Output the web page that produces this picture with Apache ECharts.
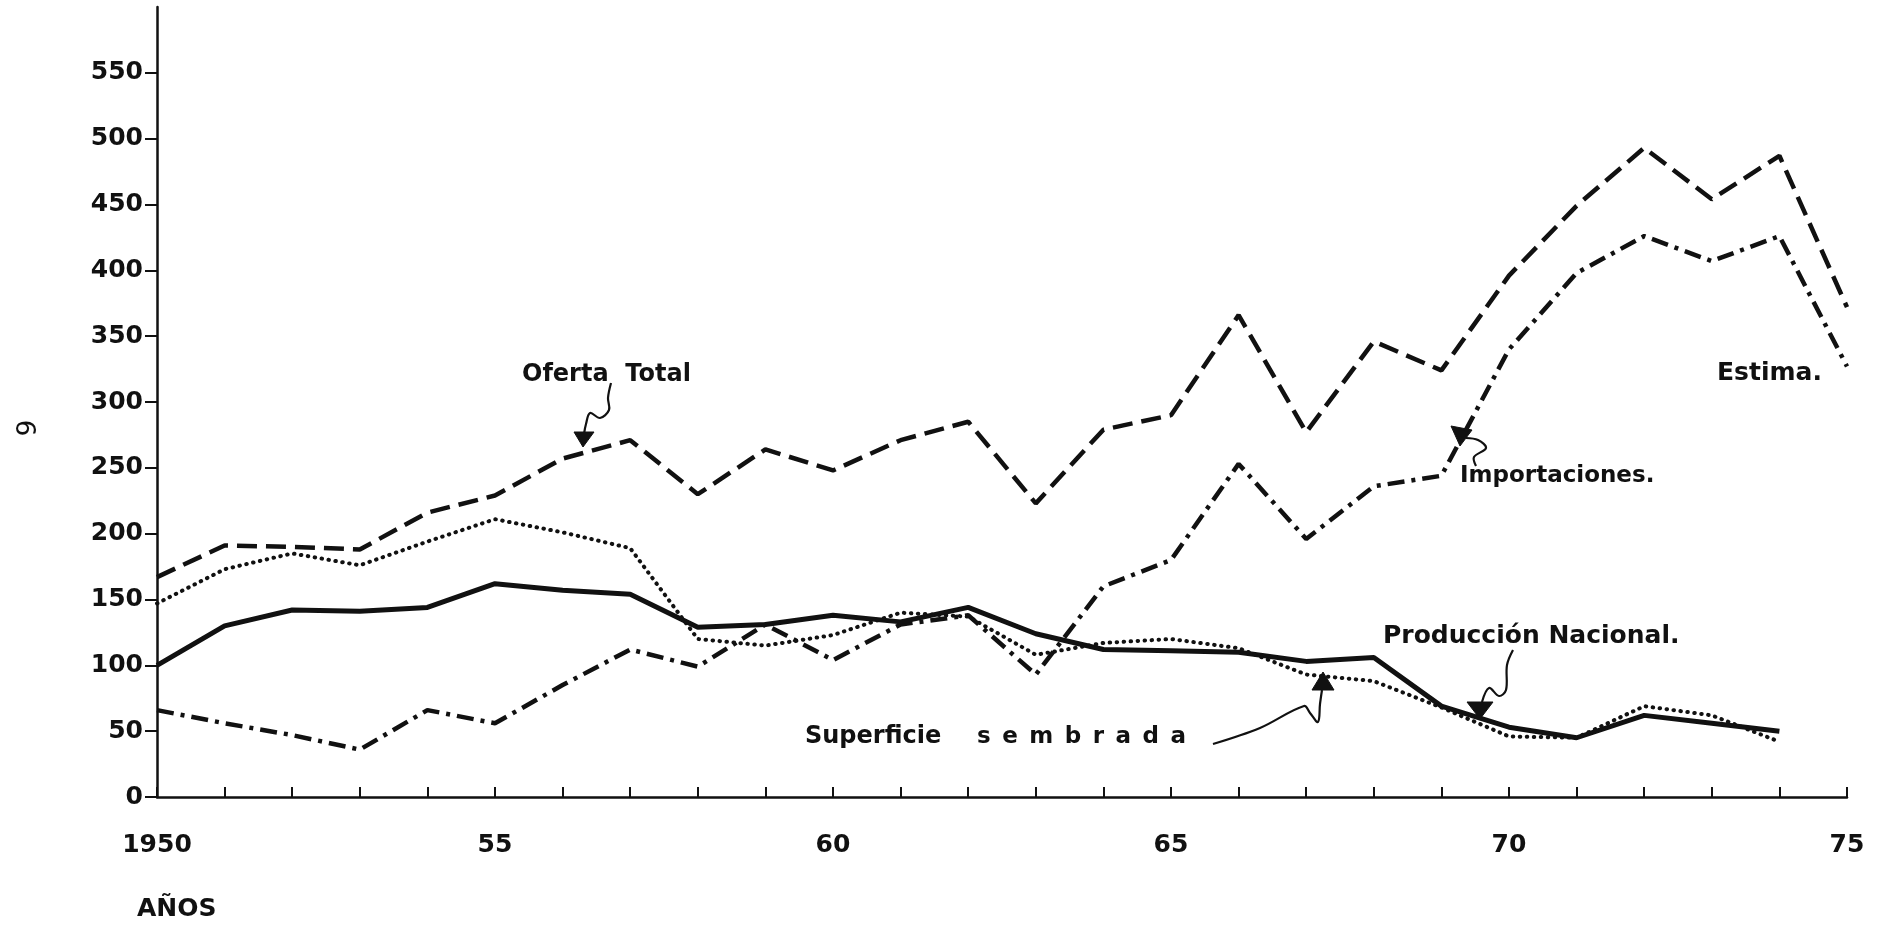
<!DOCTYPE html>
<html>
<head>
<meta charset="utf-8">
<title>Oferta Total, Importaciones, Produccion Nacional, Superficie sembrada</title>
<script src="https://cdn.jsdelivr.net/npm/echarts@6/dist/echarts.min.js"></script>
<style>
  html, body { margin: 0; padding: 0; background: #ffffff; }
  #chart { width: 1880px; height: 936px; }
</style>
</head>
<body>
<div id="chart"></div>
<script>
// años 1950 - 1975
const years = ['1950', '1951', '1952', '1953', '1954', '1955', '1956', '1957', '1958', '1959',
  '1960', '1961', '1962', '1963', '1964', '1965', '1966', '1967', '1968', '1969',
  '1970', '1971', '1972', '1973', '1974', '1975']
const yearLabels = ['1950', '55', '60', '65', '70', '75']
const yTicks = [0, 50, 100, 150, 200, 250, 300, 350, 400, 450, 500, 550]

// valores (1975 = estimado)
const ofertaTotal = [167, 191, 190, 188, 216, 229, 257, 271, 230, 264,
  248, 271, 285, 223, 279, 290, 366, 277, 346, 324,
  396, 449, 493, 454, 487, 372]
const importaciones = [66, 56, 47, 36, 66, 56, 85, 112, 99, 131,
  104, 131, 138, 93, 160, 180, 253, 196, 236, 244,
  340, 398, 426, 407, 426, 327]
const produccionNacional = [100, 130, 142, 141, 144, 162, 157, 154, 129, 131,
  138, 133, 144, 124, 112, 111, 110, 103, 106, 69,
  53, 45, 62, 56, 50, null]
const superficieSembrada = [147, 173, 185, 176, 194, 211, 201, 189, 120, 115,
  123, 140, 137, 108, 117, 120, 113, 93, 88, 68,
  46, 45, 69, 62, 42, null]

const ink = '#111111'

const chart = echarts.init(document.getElementById('chart'))

const note = (text, x, y, size) => ({
  type: 'text',
  x: x,
  y: y,
  style: {
    text: text,
    font: 'bold ' + (size || 22) + 'px "DejaVu Sans"',
    fill: ink,
    align: 'left',
    verticalAlign: 'middle'
  }
})

const curve = (points) => ({
  type: 'polyline',
  shape: { points: points, smooth: 0.35 },
  style: { stroke: ink, lineWidth: 2.2, fill: null }
})

const head = (points) => ({
  type: 'polygon',
  shape: { points: points },
  style: { fill: ink, stroke: ink, lineWidth: 1 }
})

const option = {
  animation: false,
  backgroundColor: '#ffffff',
  grid: { left: 157, right: 33, top: 7, bottom: 139 },
  xAxis: {
    type: 'category',
    data: years,
    boundaryGap: false,
    axisLine: { lineStyle: { color: ink, width: 2.5 } },
    axisTick: { show: true, inside: true, length: 10, interval: 0, lineStyle: { color: ink, width: 2 } },
    axisLabel: {
      interval: 4,
      margin: 36,
      color: ink,
      fontFamily: 'DejaVu Sans',
      fontWeight: 'bold',
      fontSize: 25,
      formatter: (value, index) => yearLabels[index / 5]
    },
    splitLine: { show: false }
  },
  yAxis: {
    type: 'value',
    min: 0,
    max: 600,
    interval: 50,
    axisLine: { show: true, lineStyle: { color: ink, width: 2.5 } },
    axisTick: { show: true, length: 12, customValues: yTicks, lineStyle: { color: ink, width: 2 } },
    axisLabel: {
      customValues: yTicks,
      margin: 14,
      color: ink,
      fontFamily: 'DejaVu Sans',
      fontWeight: 'bold',
      fontSize: 25
    },
    splitLine: { show: false }
  },
  series: [
    {
      name: 'Oferta Total',
      type: 'line',
      data: ofertaTotal,
      symbol: 'none',
      lineStyle: { color: ink, width: 4.5, type: [20, 9] }
    },
    {
      name: 'Importaciones',
      type: 'line',
      data: importaciones,
      symbol: 'none',
      lineStyle: { color: ink, width: 4.5, type: [17, 7, 4, 7] }
    },
    {
      name: 'Produccion Nacional',
      type: 'line',
      data: produccionNacional,
      symbol: 'none',
      lineStyle: { color: ink, width: 5 }
    },
    {
      name: 'Superficie sembrada',
      type: 'line',
      data: superficieSembrada,
      symbol: 'none',
      lineStyle: { color: ink, width: 4, type: [0.5, 6.5], cap: 'round' }
    }
  ],
  graphic: [
    note('Oferta  Total', 522, 375, 24),
    curve([[611, 383], [608, 398], [609, 410], [600, 418], [590, 413], [586, 424], [584, 434]]),
    head([[574, 432], [594, 432], [583, 447]]),

    note('Importaciones.', 1460, 476, 23),
    curve([[1476, 466], [1474, 457], [1486, 448], [1478, 440], [1466, 438]]),
    head([[1451, 426], [1472, 430], [1460, 446]]),

    note('Estima.', 1717, 373, 25),

    note('Producción Nacional.', 1383, 636, 25),
    curve([[1513, 650], [1507, 665], [1506, 690], [1499, 696], [1489, 688], [1482, 702]]),
    head([[1467, 702], [1493, 702], [1480, 719]]),

    note('Superficie', 805, 737, 24),
    note('s\u2002e\u2002m\u2002b\u2002r\u2002a\u2002d\u2002a', 977, 737, 23),
    curve([[1213, 744], [1260, 728], [1304, 706], [1310, 713], [1318, 722], [1320, 704], [1322, 690]]),
    head([[1312, 690], [1334, 690], [1323, 672]]),

    note('AÑOS', 137, 909, 25),
    {
      type: 'text',
      x: 23,
      y: 428,
      rotation: -Math.PI / 2,
      style: { text: '6', font: '26px "DejaVu Sans"', fill: ink, align: 'center', verticalAlign: 'middle' }
    }
  ]
}

chart.setOption(option)
</script>
</body>
</html>
